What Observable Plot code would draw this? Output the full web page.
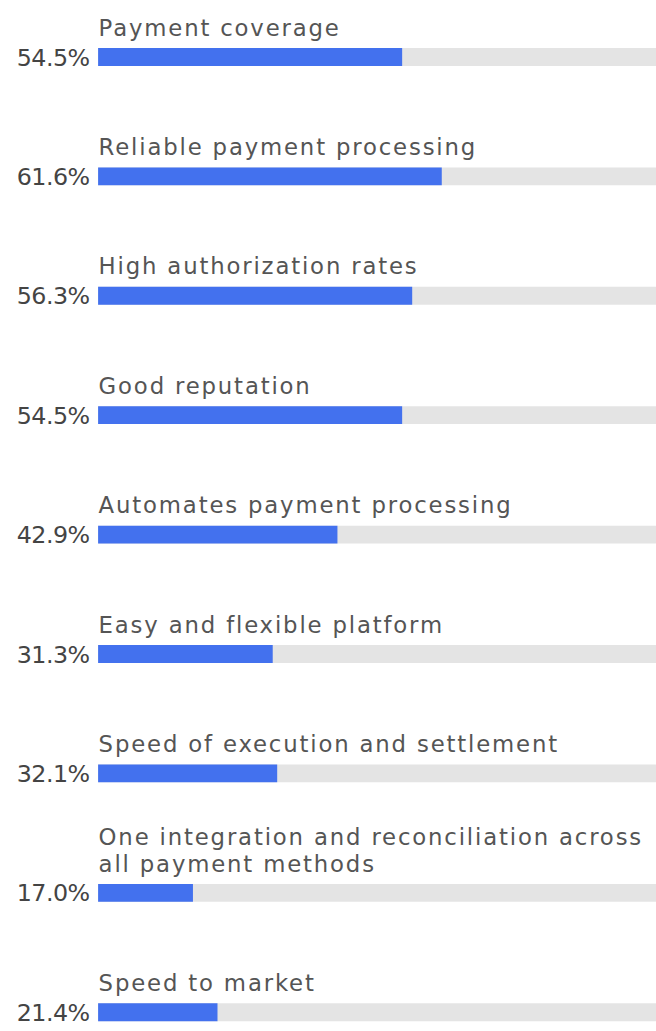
<!DOCTYPE html>
<html><head><meta charset="utf-8">
<script src="https://cdn.jsdelivr.net/npm/d3@7"></script>
<script src="https://cdn.jsdelivr.net/npm/@observablehq/plot@0.6"></script>
<style>
html,body{margin:0;padding:0;background:#fff;overflow:hidden}
</style>
</head><body><div id="chart"></div>
<script>
const labels = [
  "Payment coverage",
  "Reliable payment processing",
  "High authorization rates",
  "Good reputation",
  "Automates payment processing",
  "Easy and flexible platform",
  "Speed of execution and settlement",
  "One integration and reconciliation across\nall payment methods",
  "Speed to market"
];
const values = [54.5, 61.6, 56.3, 54.5, 42.9, 31.3, 32.1, 17.0, 21.4];
const total = 100;
const data = labels.map((label, i) => ({label, value: values[i], total}));

const chart = Plot.plot({
  width: 662, height: 1031,
  marginLeft: 99, marginRight: 0, marginTop: 0, marginBottom: 0,
  x: {domain: [0, total], axis: null},
  y: {type: "point", domain: labels, range: [57, 1021], padding: 0, round: false, axis: null},
  style: {fontFamily: "'DejaVu Sans', sans-serif", background: "#fff"},
  marks: [
    Plot.ruleY(data, {y: "label", x1: 0, x2: "total", stroke: "#e4e4e4", strokeWidth: 18}),
    Plot.ruleY(data, {y: "label", x1: 0, x2: "value", stroke: "#4371ee", strokeWidth: 18}),
    Plot.text(data, {y: "label", x: 0, text: d => d.value.toFixed(1) + "%", textAnchor: "end", dx: -9, dy: 1, lineAnchor: "middle", fontSize: 24, fill: "#444"}),
    Plot.text(data, {y: "label", x: 0, text: "label", textAnchor: "start", lineAnchor: "bottom", dy: -21.5, fontSize: 23, fill: "#555", lineHeight: 1.16})
  ]
});
const groups = d3.select(chart).selectAll('g[aria-label="text"]').nodes();
if (groups.length >= 2) {
  d3.select(groups[0]).style("letter-spacing", "-0.5px");
  d3.select(groups[1]).style("letter-spacing", "1.85px");
}
document.getElementById("chart").append(chart);
</script>
</body></html>
